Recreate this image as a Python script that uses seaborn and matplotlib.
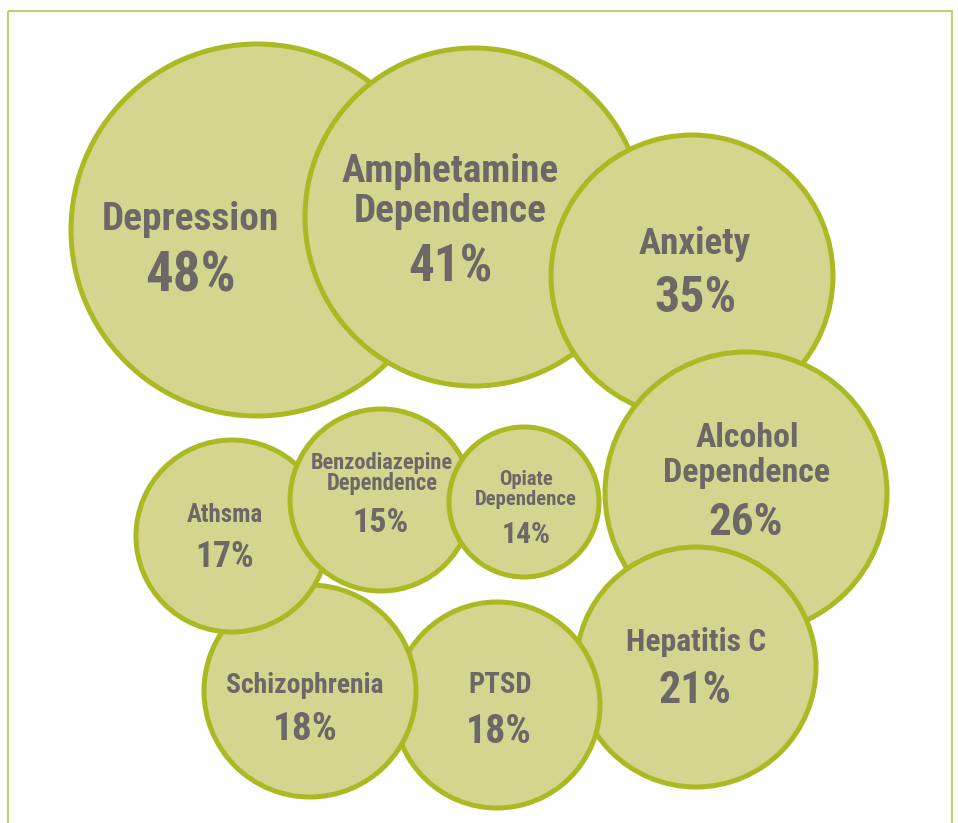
import matplotlib
matplotlib.use("Agg")
import matplotlib.pyplot as plt
import matplotlib.patches as mpatches
from matplotlib import font_manager as fm
import numpy as np
import pandas as pd
import seaborn as sns

# ---- data ----
categories = ["Depression", "Amphetamine\nDependence", "Anxiety", "Alcohol\nDependence",
              "Hepatitis C", "PTSD", "Schizophrenia", "Athsma",
              "Benzodiazepine\nDependence", "Opiate\nDependence"]
values = [48, 41, 35, 26, 21, 18, 18, 17, 15, 14]

# ---- layout (pixel space of the packed-bubble picture) ----
circle_x = [257, 474, 692, 746, 696, 497, 310, 232, 381, 524]
circle_y = [230, 217, 276, 493, 667, 705, 691, 536, 500, 502]
circle_r = [186, 169, 141, 141, 120, 103, 106, 96, 91, 75]
label_x = [190, 450, 695, 747, 696, 500, 305, 225, 382, 526]
label_base = [230, 182, 254, 447, 651, 693, 693, 522, 469, 485]
label_gap = [0, 40, 0, 35, 0, 0, 0, 0, 21, 20]
label_cap = [27, 28, 26, 24, 23, 20, 20, 18, 16, 15]
label_w = [[185], [217, 193], [114], [105, 170], [138], [65], [155], [75], [142, 112], [53, 101]]
pct_x = [190, 450, 695, 746, 695, 499, 305, 225, 381, 526]
pct_base = [292, 282, 312, 535, 703, 743, 740, 567, 532, 543]
pct_cap = [39, 37, 35, 30, 31, 28, 28, 25, 24, 20]
pct_w = [91, 83, 83, 80, 74, 67, 65, 60, 57, 52]

W, H = 958, 823
FILL = "#d4d690"
EDGE = "#abb922"
TEXT = "#6e6767"


def pick_font():
    fl = fm.fontManager.ttflist
    prefs = ["liberation sans narrow", "arial narrow", "roboto condensed",
             "noto sans condensed", "noto sans semicondensed", "open sans condensed",
             "dejavu sans condensed"]
    def key(f):
        return (f.name + " " + f.fname).lower().replace("-", " ").replace("_", " ")
    bold = [f for f in fl if (f.weight in ("bold", 700, "700") or
                              (isinstance(f.weight, int) and f.weight >= 600))
            and "italic" not in f.style and "oblique" not in f.style
            and "italic" not in f.fname.lower() and "oblique" not in f.fname.lower()]
    for p in prefs:
        for f in bold:
            k = key(f)
            if p in k or p.replace(" ", "") in k.replace(" ", ""):
                return fm.FontProperties(fname=f.fname)
    for f in bold:
        k = key(f)
        if ("condensed" in k or "narrow" in k) and "extra" not in k and "ultra" not in k:
            return fm.FontProperties(fname=f.fname)
    return fm.FontProperties(family="Roboto", weight="bold")


FONT = pick_font()

df = pd.DataFrame({"category": categories, "value": values,
                   "x": circle_x, "y": circle_y, "r": circle_r})
df["s"] = (2 * df["r"] * 72 / 100) ** 2

sns.set_theme(style="white")

fig = plt.figure(figsize=(W / 100, H / 100), dpi=100)
ax = fig.add_axes([0, 0, 1, 1])
ax.set_xlim(0, W)
ax.set_ylim(H, 0)
ax.set_axis_off()

smin, smax = df["s"].min(), df["s"].max()
sns.scatterplot(data=df, x="x", y="y", size="s", sizes=(smin, smax),
                size_norm=(smin, smax), color=FILL, edgecolor=EDGE,
                linewidth=3.6, legend=False, ax=ax, zorder=2)

texts = []  # (text, target width, cap px)
for i, row in df.iterrows():
    lines = row["category"].split("\n")
    for j, line in enumerate(lines):
        t = ax.text(label_x[i], label_base[i] + j * label_gap[i], line,
                    ha="center", va="baseline", fontproperties=FONT,
                    fontsize=label_cap[i], color=TEXT, zorder=5)
        texts.append((t, label_w[i][j], label_cap[i]))
    t = ax.text(pct_x[i], pct_base[i], f"{row['value']}%", ha="center", va="baseline",
                fontproperties=FONT, fontsize=pct_cap[i], color=TEXT, zorder=5)
    texts.append((t, pct_w[i], pct_cap[i]))

fig.canvas.draw()
rend = fig.canvas.get_renderer()
for t, tw, cap in texts:
    w = t.get_window_extent(rend).width
    fs_w = t.get_fontsize() * tw / w
    fs_h = cap * 1.01
    fs = min(np.sqrt(fs_w * fs_h), fs_w * 1.08)
    t.set_fontsize(fs)

frame = mpatches.Rectangle((8, 11), 944, 830, fill=False, edgecolor="#c6cd70",
                           linewidth=1.5, clip_on=False, zorder=1)
ax.add_patch(frame)

fig.savefig("out.png", dpi=100, facecolor="white")
